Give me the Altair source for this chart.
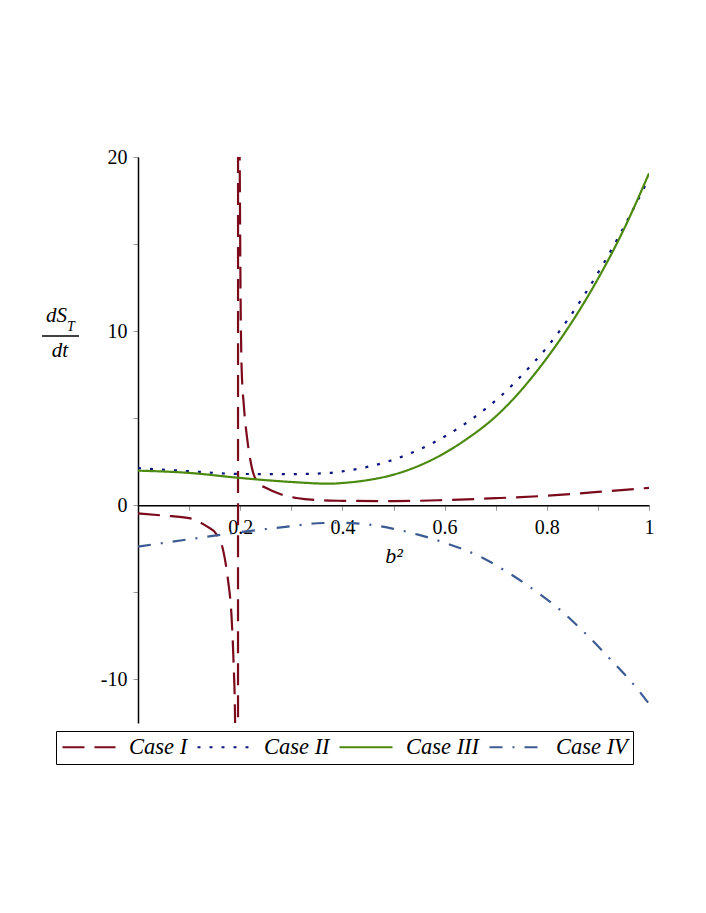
import altair as alt
import pandas as pd

cases = ["Case I", "Case II", "Case III", "Case IV"]
colors = ["#7b0a1c", "#0a1480", "#4b8a0e", "#3d5b93"]
dashes = [[22, 10], [3, 9], [1, 0], [13, 10, 2, 10]]

case1_x = [0, 0.05, 0.1, 0.134, 0.154, 0.167, 0.176, 0.183, 0.187, 0.19, 0.193, 0.1955,
           0.196, 0.1975, 0.1995, 0.2008, 0.2027, 0.2073, 0.2139, 0.2223, 0.2354, 0.252,
           0.278, 0.31, 0.375, 0.4, 0.5, 0.6, 0.7, 0.8, 0.9, 1.0]
case1_y = [-0.46, -0.59, -0.74, -1.2, -1.68, -2.63, -4.26, -6.36, -9.0, -12.4, -25, -100,
           100, 30, 17.5, 11.8, 7.97, 5.67, 3.77, 2.23, 1.28, 0.98,
           0.65, 0.42, 0.27, 0.26, 0.24, 0.3, 0.41, 0.55, 0.77, 1.0]

case2_x = [0, 0.1, 0.2, 0.3, 0.375, 0.4, 0.5, 0.6, 0.658, 0.709, 0.756, 0.8, 0.839,
           0.876, 0.91, 0.942, 0.963, 0.993, 1.0]
case2_y = [2.14, 1.96, 1.8, 1.79, 1.86, 1.95, 2.62, 3.95, 5.05, 6.25, 7.62, 9.06, 10.58,
           12.2, 13.83, 15.5, 16.66, 18.38, 18.8]

case3_x = [0, 0.1, 0.2, 0.3, 0.375, 0.4, 0.45, 0.5, 0.6, 0.643, 0.7, 0.8, 0.9, 0.95, 1.0]
case3_y = [1.99, 1.86, 1.57, 1.34, 1.24, 1.28, 1.45, 1.76, 3.0, 3.8, 5.1, 8.45, 13.0, 15.8, 19.06]

case4_x = [0, 0.1, 0.2, 0.3, 0.35, 0.4, 0.45, 0.5, 0.55, 0.6, 0.675, 0.718, 0.776, 0.829,
           0.881, 0.928, 0.974, 1.0]
case4_y = [-2.37, -1.95, -1.54, -1.2, -1.03, -1.0, -1.1, -1.35, -1.7, -2.15, -3.02, -3.75,
           -4.88, -6.08, -7.52, -8.95, -10.43, -11.4]

x_ticks = [0.1, 0.2, 0.3, 0.4, 0.5, 0.6, 0.7, 0.8, 0.9, 1.0]
x_labels = ["0.2", "0.4", "0.6", "0.8", "1"]
y_ticks = [-10, -5, 0, 5, 10, 15, 20]
y_domain = [-12.5, 20]

serif = "'Liberation Serif', 'Times New Roman', Times, 'DejaVu Serif', serif"
W, H = 511, 566

rows = []
for name, xs, ys in zip(cases, [case1_x, case2_x, case3_x, case4_x],
                        [case1_y, case2_y, case3_y, case4_y]):
    for i, (xv, yv) in enumerate(zip(xs, ys)):
        rows.append({"case": name, "b2": xv, "ds": yv, "order": i})
df = pd.DataFrame(rows)

x_axis_offset = -H * (0 - y_domain[0]) / (y_domain[1] - y_domain[0])

label_list = "[" + ",".join("'" + s + "'" for s in x_labels) + "]"

legend = alt.Legend(
    title=None, orient="none", legendX=-82, legendY=574, direction="horizontal",
    symbolType="stroke", symbolSize=2809, symbolStrokeWidth=2.2, clipHeight=22,
    labelFont=serif, labelFontStyle="italic", labelFontSize=22.5, labelColor="black",
    labelOffset=12, columnPadding=8, padding=5, strokeColor="black",
)

lines = alt.Chart(df).mark_line(clip=True, strokeWidth=2.2, interpolate="monotone").encode(
    x=alt.X("b2:Q",
            scale=alt.Scale(domain=[0, 1], nice=False, zero=False),
            axis=alt.Axis(values=x_ticks, format="~g",
                          labelExpr="indexof(" + label_list + ", datum.label) >= 0 ? datum.label : ''",
                          offset=x_axis_offset, title="b²", titleFont=serif,
                          titleFontStyle="italic", titleFontWeight="normal", titleFontSize=22,
                          titleColor="black", titlePadding=8, labelPadding=7,
                          labelFlush=False, labelOverlap=False, labelBound=False)),
    y=alt.Y("ds:Q",
            scale=alt.Scale(domain=y_domain, nice=False, zero=False),
            axis=alt.Axis(values=y_ticks,
                          labelExpr="datum.value % 10 == 0 ? toString(datum.value) : ''",
                          title=None, labelPadding=6, labelFlush=False, labelOverlap=False)),
    color=alt.Color("case:N", scale=alt.Scale(domain=cases, range=colors), legend=legend),
    strokeDash=alt.StrokeDash("case:N", scale=alt.Scale(domain=cases, range=dashes), legend=legend),
    order="order:Q",
)

txt = dict(font=serif, fontStyle="italic", color="black", baseline="alphabetic")

ds_text = alt.Chart(pd.DataFrame({"t": ["dS"]})).mark_text(
    fontSize=21, align="right", **txt).encode(text="t:N", x=alt.value(-71), y=alt.value(165))
t_text = alt.Chart(pd.DataFrame({"t": ["T"]})).mark_text(
    fontSize=14, align="left", **txt).encode(text="t:N", x=alt.value(-71), y=alt.value(174))
dt_text = alt.Chart(pd.DataFrame({"t": ["dt"]})).mark_text(
    fontSize=21, align="center", **txt).encode(text="t:N", x=alt.value(-78), y=alt.value(200))
bar = alt.Chart(pd.DataFrame({"a": [0]})).mark_rule(color="black", strokeWidth=1.3).encode(
    x=alt.value(-96), x2=alt.value(-59), y=alt.value(179))

chart = alt.layer(lines, ds_text, t_text, dt_text, bar).properties(
    width=W, height=H,
    padding={"left": 130, "top": 149, "right": 40, "bottom": 150},
    autosize=alt.AutoSizeParams(type="none"),
).configure_view(stroke=None).configure_axis(
    grid=False, domainColor="black", domainWidth=1.5, tickColor="#999999", tickWidth=1,
    tickSize=5, labelFont=serif, labelFontSize=20, labelColor="black",
)

chart.save("out.html", embed_options={"renderer": "svg", "actions": False})
